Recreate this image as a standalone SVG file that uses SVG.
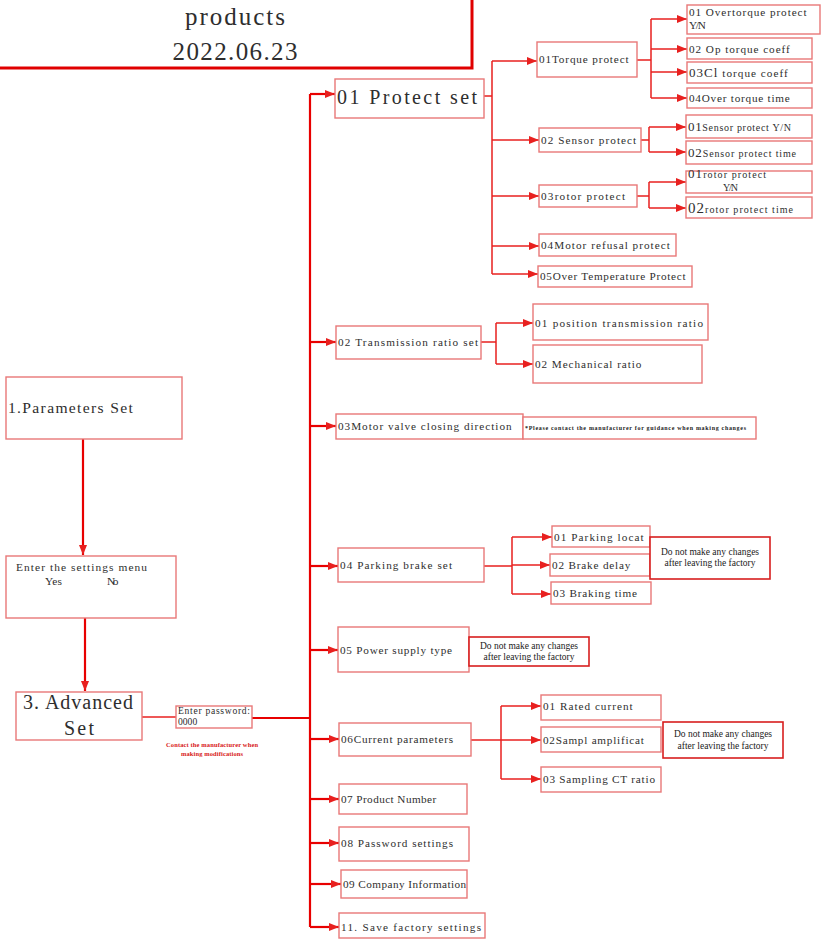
<svg xmlns="http://www.w3.org/2000/svg" width="822" height="940" viewBox="0 0 822 940">
<style>
.bx{fill:#fff;stroke:#e87878;stroke-width:1.4}
.nb{fill:#fff;stroke:#d81e1e;stroke-width:1.6}
.t{font-family:'Liberation Serif','Times New Roman',serif;fill:#2e2e2e}
.s11{font-size:11.2px}
.n{font-family:'Liberation Serif','Times New Roman',serif;fill:#1a1a1a;font-size:9.5px;text-anchor:middle}
.c{fill:none;stroke:#e8201f;stroke-width:1.5}
.ck{fill:none;stroke:#e80000;stroke-width:2.2}
</style>
<defs>
<marker id="ah" markerWidth="10" markerHeight="8" refX="10" refY="4" orient="auto" markerUnits="userSpaceOnUse"><path d="M0,0 L10,4 L0,8 z" fill="#e8201f"/></marker>
</defs>
<rect width="822" height="940" fill="#fff"/>

<g id="connectors">
<path class="ck" d="M83,439 V555" marker-end="url(#ah)"/>
<path class="ck" d="M85,618 V691" marker-end="url(#ah)"/>
<path class="c" d="M142,717 H176" stroke-width="2"/>
<path class="ck" d="M252,718 H310" stroke-width="3"/>
<path class="ck" d="M310,927 V94" stroke-width="2.6"/>
<path class="ck" d="M310,94 H335" marker-end="url(#ah)"/>
<path class="ck" d="M310,342 H336" marker-end="url(#ah)"/>
<path class="ck" d="M310,426 H336" marker-end="url(#ah)"/>
<path class="ck" d="M310,566 H338" marker-end="url(#ah)"/>
<path class="ck" d="M310,650 H338" marker-end="url(#ah)"/>
<path class="ck" d="M310,739 H339" marker-end="url(#ah)"/>
<path class="ck" d="M310,799 H339" marker-end="url(#ah)"/>
<path class="ck" d="M310,843 H339" marker-end="url(#ah)"/>
<path class="ck" d="M310,884 H341" marker-end="url(#ah)"/>
<path class="ck" d="M310,927 H339" marker-end="url(#ah)"/>
<path class="c" d="M484,96 H492 M492,61 V274"/>
<path class="c" d="M492,61 H537" marker-end="url(#ah)"/>
<path class="c" d="M492,140 H539" marker-end="url(#ah)"/>
<path class="c" d="M492,196 H539" marker-end="url(#ah)"/>
<path class="c" d="M492,246 H539" marker-end="url(#ah)"/>
<path class="c" d="M492,274 H538" marker-end="url(#ah)"/>
<path class="c" d="M637,60 H651 M651,19 V98"/>
<path class="c" d="M651,19 H687" marker-end="url(#ah)"/>
<path class="c" d="M651,49 H687" marker-end="url(#ah)"/>
<path class="c" d="M651,72 H687" marker-end="url(#ah)"/>
<path class="c" d="M651,98 H687" marker-end="url(#ah)"/>
<path class="c" d="M641,140 H649 M649,127 V152"/>
<path class="c" d="M649,127 H686" marker-end="url(#ah)"/>
<path class="c" d="M649,152 H686" marker-end="url(#ah)"/>
<path class="c" d="M637,196 H649 M649,182 V208"/>
<path class="c" d="M649,182 H686" marker-end="url(#ah)"/>
<path class="c" d="M649,208 H686" marker-end="url(#ah)"/>
<path class="c" d="M481,342 H496 M496,323 V364"/>
<path class="c" d="M496,323 H533" marker-end="url(#ah)"/>
<path class="c" d="M496,364 H533" marker-end="url(#ah)"/>
<path class="c" d="M484,566 H512 M512,537 V594"/>
<path class="c" d="M512,537 H552" marker-end="url(#ah)"/>
<path class="c" d="M512,565 H550" marker-end="url(#ah)"/>
<path class="c" d="M512,594 H551" marker-end="url(#ah)"/>
<path class="c" d="M501,706 V779" stroke-width="2"/>
<path class="c" d="M471,740 H541" stroke-width="2" marker-end="url(#ah)"/>
<path class="c" d="M501,706 H541" stroke-width="2" marker-end="url(#ah)"/>
<path class="c" d="M501,779 H541" stroke-width="2" marker-end="url(#ah)"/>
</g>

<g id="title"><rect x="-3" y="-10" width="475" height="78" fill="#fff" stroke="#e00000" stroke-width="3"/>
<text class="t" x="235" y="25" font-size="25" text-anchor="middle" textLength="100">products</text>
<text class="t" x="235" y="60" font-size="25" text-anchor="middle" textLength="125">2022.06.23</text></g>

<g id="params"><rect class="bx" x="6" y="377" width="176" height="62"/><text class="t" x="8" y="413" font-size="15.6" textLength="124.8">1.Parameters Set</text></g>
<g id="menu"><rect class="bx" x="6" y="556" width="170" height="62"/><text class="t" x="16" y="571" font-size="11.4" textLength="131">Enter the settings menu</text><text class="t" x="45" y="585" font-size="11.4" textLength="17">Yes</text><text class="t" x="107" y="585" font-size="11.4" textLength="11.4">No</text></g>
<g id="advanced"><rect class="bx" x="16" y="692" width="126" height="48"/><text class="t" x="23" y="709" font-size="20" textLength="110">3. Advanced</text><text class="t" x="79" y="735" font-size="20" text-anchor="middle" textLength="30">Set</text></g>
<g id="password"><rect class="bx" x="176" y="706" width="76" height="22"/><text class="t" x="178" y="714" font-size="9.6" textLength="72">Enter password:</text><text class="t" x="178" y="725" font-size="9.6" textLength="19.2">0000</text>
<text x="212" y="747" font-family="'Liberation Serif',serif" font-weight="bold" font-size="6.5" fill="#d82020" text-anchor="middle" textLength="92">Contact the manufacturer when</text>
<text x="212" y="756" font-family="'Liberation Serif',serif" font-weight="bold" font-size="6.5" fill="#d82020" text-anchor="middle" textLength="62">making modifications</text></g>

<g id="protect"><rect class="bx" x="335" y="79" width="149" height="39"/><text class="t" x="337" y="104" font-size="20" textLength="140">01 Protect set</text></g>
<g id="torque"><rect class="bx" x="537" y="42" width="100" height="35"/><text class="t s11" x="539" y="63" textLength="89.6">01Torque protect</text></g>
<g id="ot1"><rect class="bx" x="687" y="5" width="133" height="29"/><text class="t s11" x="689" y="16" textLength="117.6">01 Overtorque protect</text><text class="t s11" x="689" y="29" textLength="16.8">Y/N</text></g>
<g id="ot2"><rect class="bx" x="687" y="38" width="125" height="21"/><text class="t s11" x="689" y="53" textLength="100.8">02 Op torque coeff</text></g>
<g id="ot3"><rect class="bx" x="687" y="62" width="125" height="21"/><text class="t" x="689" y="77" textLength="98.8"><tspan font-size="13">03Cl</tspan><tspan font-size="11.2"> torque coeff</tspan></text></g>
<g id="ot4"><rect class="bx" x="687" y="88" width="125" height="20"/><text class="t s11" x="689" y="102" textLength="100.8">04Over torque time</text></g>
<g id="sensor"><rect class="bx" x="539" y="128" width="102" height="24"/><text class="t s11" x="541" y="144" textLength="95.2">02 Sensor protect</text></g>
<g id="s1"><rect class="bx" x="686" y="115" width="126" height="23"/><text class="t" x="688" y="131" textLength="103"><tspan font-size="13">01</tspan><tspan font-size="10">Sensor protect Y/N</tspan></text></g>
<g id="s2"><rect class="bx" x="686" y="141" width="126" height="23"/><text class="t" x="688" y="157" textLength="108"><tspan font-size="13">02</tspan><tspan font-size="10">Sensor protect time</tspan></text></g>
<g id="rotor"><rect class="bx" x="539" y="185" width="98" height="22"/><text class="t s11" x="541" y="200" textLength="84">03rotor protect</text></g>
<g id="r1"><rect class="bx" x="686" y="171" width="126" height="22"/><text class="t" x="688" y="178" textLength="78"><tspan font-size="13">01</tspan><tspan font-size="10">rotor protect</tspan></text><text class="t" x="723" y="191" font-size="10" textLength="15">Y/N</text></g>
<g id="r2"><rect class="bx" x="686" y="197" width="126" height="21"/><text class="t" x="688" y="213" textLength="105"><tspan font-size="15">02</tspan><tspan font-size="10">rotor protect time</tspan></text></g>
<g id="refusal"><rect class="bx" x="539" y="234" width="137" height="22"/><text class="t s11" x="541" y="249" textLength="128.8">04Motor refusal protect</text></g>
<g id="overtemp"><rect class="bx" x="538" y="266" width="154" height="21"/><text class="t s11" x="540" y="280" textLength="145.6">05Over Temperature Protect</text></g>

<g id="trans"><rect class="bx" x="336" y="326" width="145" height="33"/><text class="t s11" x="338" y="346" textLength="140">02 Transmission ratio set</text></g>
<g id="tr1"><rect class="bx" x="533" y="304" width="175" height="36"/><text class="t s11" x="535" y="327" textLength="168">01 position transmission ratio</text></g>
<g id="tr2"><rect class="bx" x="533" y="345" width="169" height="38"/><text class="t s11" x="535" y="368" textLength="106.4">02 Mechanical ratio</text></g>

<g id="motor"><rect class="bx" x="336" y="414" width="187" height="25"/><text class="t s11" x="338" y="430" textLength="173.6">03Motor valve closing direction</text></g>
<g id="motornote"><rect class="bx" x="523" y="417" width="233" height="22"/><text x="525" y="430" font-family="'Liberation Serif',serif" font-weight="bold" font-size="6" fill="#222" textLength="221">*Please contact the manufacturer for guidance when making changes</text></g>

<g id="parking"><rect class="bx" x="338" y="548" width="146" height="34"/><text class="t s11" x="340" y="569" textLength="112">04 Parking brake set</text></g>
<g id="p1"><rect class="bx" x="552" y="526" width="98" height="21"/><text class="t s11" x="554" y="541" textLength="89.6">01 Parking locat</text></g>
<g id="p2"><rect class="bx" x="550" y="554" width="100" height="22"/><text class="t s11" x="552" y="569" textLength="78.4">02 Brake delay</text></g>
<g id="p3"><rect class="bx" x="551" y="582" width="100" height="22"/><text class="t s11" x="553" y="597" textLength="84">03 Braking time</text></g>
<g id="pnote"><rect class="nb" x="650" y="537" width="120" height="42"/><text class="n" x="710" y="555">Do not make any changes</text><text class="n" x="710" y="566">after leaving the factory</text></g>

<g id="power"><rect class="bx" x="338" y="627" width="131" height="45"/><text class="t s11" x="340" y="654" textLength="112">05 Power supply type</text></g>
<g id="powernote"><rect class="nb" x="469" y="637" width="120" height="29"/><text class="n" x="529" y="649">Do not make any changes</text><text class="n" x="529" y="660">after leaving the factory</text></g>

<g id="current"><rect class="bx" x="339" y="723" width="132" height="33"/><text class="t s11" x="341" y="743" textLength="112">06Current parameters</text></g>
<g id="c1"><rect class="bx" x="541" y="695" width="120" height="25"/><text class="t s11" x="543" y="710" textLength="89.6">01 Rated current</text></g>
<g id="c2"><rect class="bx" x="541" y="727" width="120" height="25"/><text class="t s11" x="543" y="744" textLength="100.8">02Sampl amplificat</text></g>
<g id="c3"><rect class="bx" x="541" y="767" width="120" height="25"/><text class="t s11" x="543" y="783" textLength="112">03 Sampling CT ratio</text></g>
<g id="cnote"><rect class="nb" x="663" y="722" width="120" height="36"/><text class="n" x="723" y="737">Do not make any changes</text><text class="n" x="723" y="749">after leaving the factory</text></g>

<g id="product"><rect class="bx" x="339" y="784" width="128" height="30"/><text class="t s11" x="341" y="803" textLength="95.2">07 Product Number</text></g>
<g id="pwdset"><rect class="bx" x="339" y="827" width="130" height="34"/><text class="t s11" x="341" y="847" textLength="112">08 Password settings</text></g>
<g id="company"><rect class="bx" x="341" y="870" width="126" height="28"/><text class="t s11" x="343" y="888" textLength="123.2">09 Company Information</text></g>
<g id="save"><rect class="bx" x="339" y="913" width="146" height="25"/><text class="t s11" x="341" y="931" textLength="140">11. Save factory settings</text></g>
</svg>
